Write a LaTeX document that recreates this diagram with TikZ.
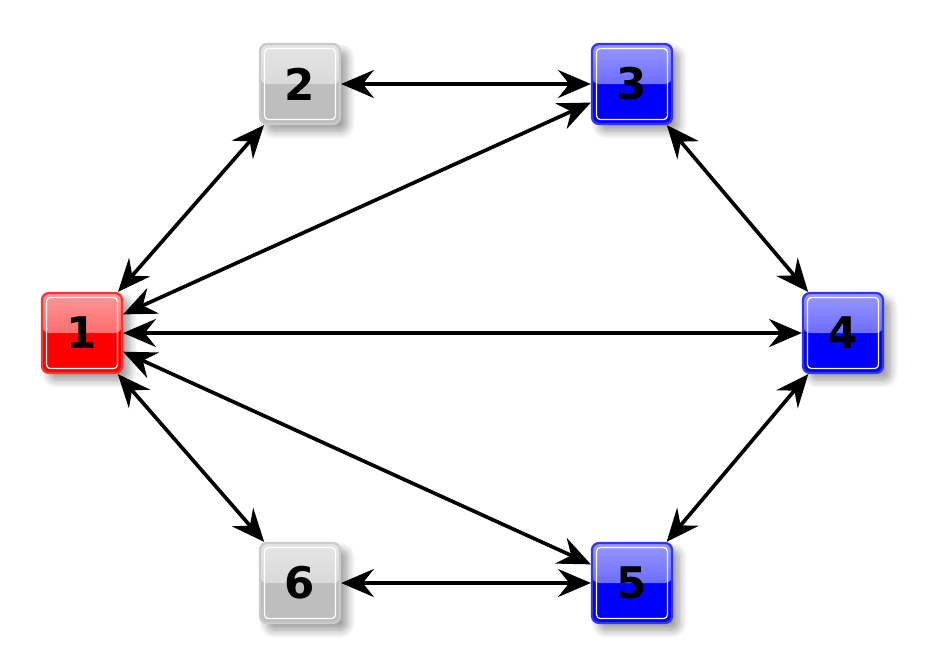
\documentclass[tikz,border=0pt]{standalone}
\usepackage{fontspec}
\setmainfont{DejaVu Sans}
\usetikzlibrary{arrows.meta, shadows.blur}
\definecolor{NodeRed}{RGB}{255, 0, 0}
\definecolor{NodeBlue}{RGB}{0, 0, 255}
\definecolor{NodeGray}{RGB}{190, 190, 190}

\begin{document}
\begin{tikzpicture}[
        glossy/.style={minimum size=2cm, inner sep=0pt, rounded corners=5pt, line width=1.6pt, draw=#1!80!white, fill=#1,
            blur shadow={shadow xshift=0.18cm, shadow yshift=-0.18cm, shadow blur steps=10, shadow blur radius=0.2cm, shadow opacity=40},
            font=\fontsize{31}{31}\selectfont\bfseries,
            path picture={
                \fill[top color=#1!40!white, bottom color=#1!75!white]
                    (path picture bounding box.north west) rectangle (path picture bounding box.east);
                \draw[white, line width=0.9pt, rounded corners=3pt]
                    ([shift={(0.11cm,-0.11cm)}]path picture bounding box.north west)
                    rectangle ([shift={(-0.11cm,0.11cm)}]path picture bounding box.south east);
            }},
        link/.style={{Stealth[length=0.82cm, width=0.7cm, inset=0.28cm]}-{Stealth[length=0.82cm, width=0.7cm, inset=0.28cm]}, line width=2.6pt, black}
    ]
        \useasboundingbox (0, 0) rectangle (23.2, -16.675);

        % Nodes
        \node[glossy=NodeRed] (n1) at (2.05, -8.325) {1};
        \node[glossy=NodeGray] (n2) at (7.5, -2.1) {2};
        \node[glossy=NodeBlue] (n3) at (15.8, -2.1) {3};
        \node[glossy=NodeBlue] (n4) at (21.075, -8.325) {4};
        \node[glossy=NodeBlue] (n5) at (15.8, -14.575) {5};
        \node[glossy=NodeGray] (n6) at (7.5, -14.575) {6};

        % Links
        \draw[link] (n1) -- (n2);
        \draw[link] (n2) -- (n3);
        \draw[link] (n1) -- (n3);
        \draw[link] (n3) -- (n4);
        \draw[link] (n1) -- (n4);
        \draw[link] (n1) -- (n5);
        \draw[link] (n4) -- (n5);
        \draw[link] (n1) -- (n6);
        \draw[link] (n6) -- (n5);
    \end{tikzpicture}
\end{document}
